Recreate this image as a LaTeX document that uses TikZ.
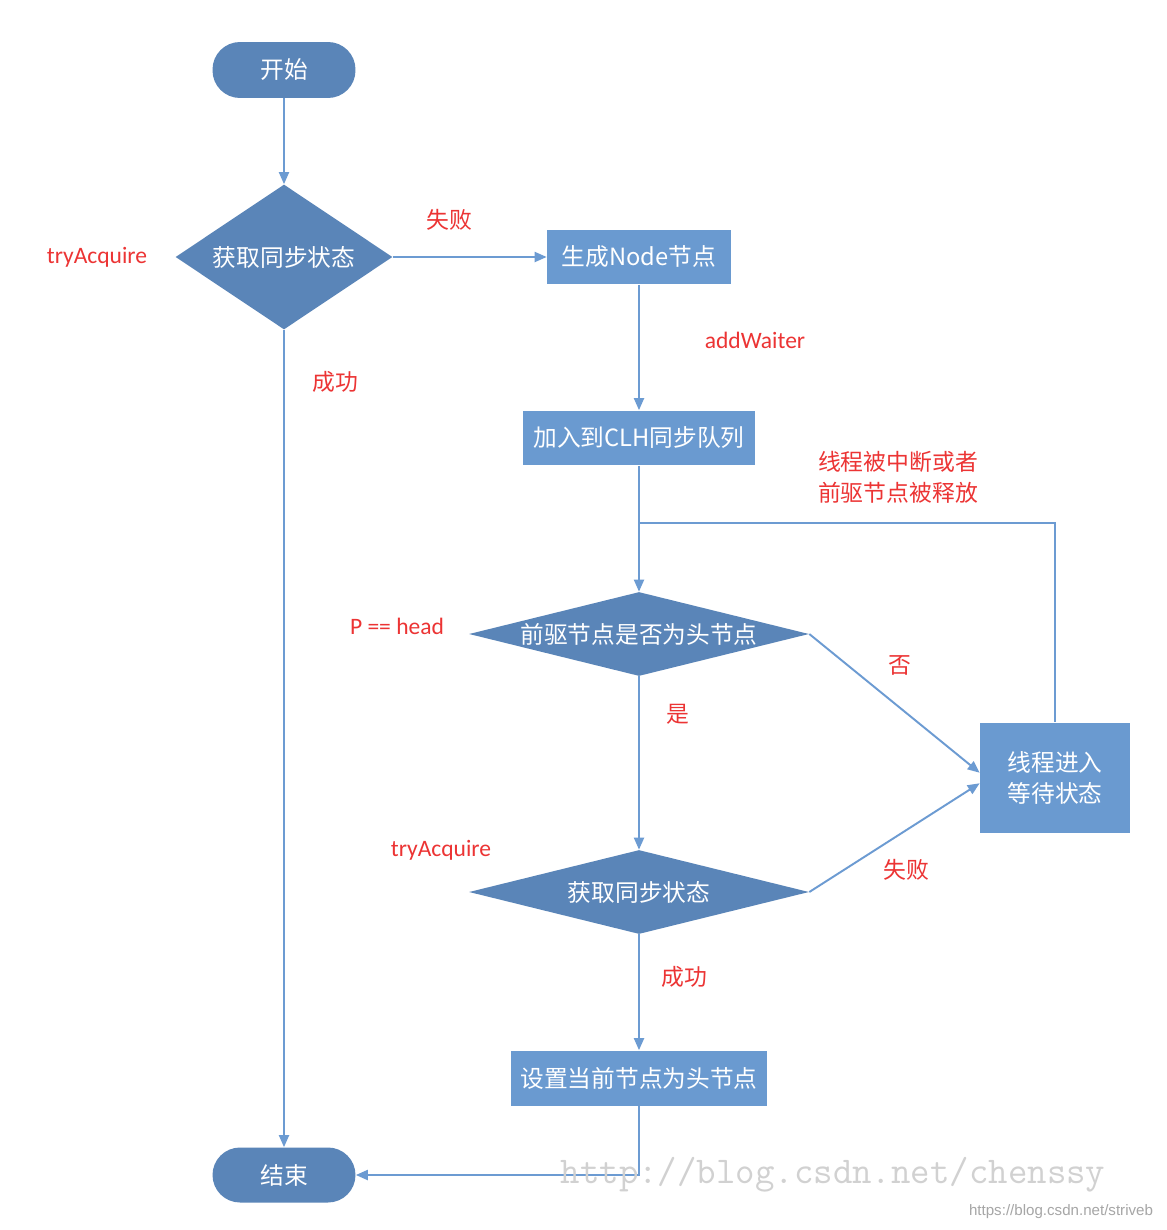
\documentclass[tikz,border=0pt]{standalone}
\usepackage{fontspec}
\setmainfont{Carlito}
\newfontfamily\cjk{Noto Sans CJK SC}
\newfontfamily\wmsmall{Liberation Sans}
\usetikzlibrary{shapes.geometric,arrows.meta}
\definecolor{flowdark}{HTML}{5A85B8}
\definecolor{flowbox}{HTML}{6A9AD0}
\definecolor{flowline}{HTML}{6C9BD2}
\definecolor{flowred}{HTML}{EC3434}
\tikzset{
    terminal/.style={draw=none, fill=flowdark, rounded corners=0.55cm, minimum width=2.86cm, minimum height=1.12cm, text=white, font=\cjk\fontsize{13.5}{18}\selectfont},
    stepbox/.style={draw=none, fill=flowbox, minimum height=1.1cm, inner sep=0pt, text=white, font=\cjk\fontsize{13.5}{18}\selectfont},
    decision/.style={diamond, draw=none, fill=flowdark, inner sep=0pt},
    decisiontext/.style={text=white, font=\cjk\fontsize{13.5}{18}\selectfont},
    flow/.style={draw=flowline, line width=1.1pt, -{Triangle[length=2.4mm,width=2mm]}},
    plainflow/.style={draw=flowline, line width=1.1pt},
    note/.style={text=flowred, font=\cjk\fontsize{13}{17.6}\selectfont, align=left},
    notelatin/.style={text=flowred, font=\fontsize{13.4}{16}\selectfont},
}
\begin{document}
\begin{tikzpicture}[x=0.02cm, y=-0.02cm]
        \useasboundingbox[fill=white] (0, 0) rectangle (1166, 1230);
        %left column
        \node[terminal] (start) at (284, 70) {开始};
        \node[decision, minimum width=4.34cm, minimum height=2.9cm] (acq1) at (284, 257) {};
        \node[decisiontext] at (acq1) {获取同步状态};
        \node[terminal, minimum height=1.1cm] (finish) at (284, 1175) {结束};
        %middle column
        \node[stepbox, minimum width=3.68cm] (gen) at (639, 257) {生成Node节点};
        \node[stepbox, minimum width=4.64cm] (enq) at (639, 438) {加入到CLH同步队列};
        \node[decision, minimum width=6.8cm, minimum height=1.68cm] (pre) at (639, 634) {};
        \node[decisiontext] at (pre) {前驱节点是否为头节点};
        \node[decision, minimum width=6.8cm, minimum height=1.68cm] (acq2) at (639, 892) {};
        \node[decisiontext] at (acq2) {获取同步状态};
        \node[stepbox, minimum width=5.14cm] (sethead) at (639, 1078) {设置当前节点为头节点};
        %wait box
        \node[stepbox, minimum width=3cm, minimum height=2.22cm, align=center] (wait) at (1055, 778) {线程进入\\等待状态};
        \coordinate (join) at (639, 523);
        %connectors
        \draw[flow] (start) -- (acq1);
        \draw[flow] (acq1) -- (gen);
        \draw[flow] (acq1) -- (finish);
        \draw[flow] (gen) -- (enq);
        \draw[flow] (enq) -- (pre);
        \draw[plainflow] (wait.north) |- (join);
        \draw[flow] (pre.east) -- ([yshift=3pt]wait.west);
        \draw[flow] (pre) -- (acq2);
        \draw[flow] (acq2.east) -- ([yshift=-3pt]wait.west);
        \draw[flow] (acq2) -- (sethead);
        \draw[flow] (sethead.south) |- (finish.east);
        %labels
        \node[notelatin] (try1) at (97, 257) {tryAcquire};
        \node[note] (fail1) at (449, 220) {失败};
        \node[note] (ok1) at (335, 382) {成功};
        \node[notelatin] (addw) at (755, 340) {addWaiter};
        \node[note] (intr) at (898, 477) {线程被中断或者\\前驱节点被释放};
        \node[notelatin] (phead) at (397, 626) {P == head};
        \node[note] (no) at (900, 665) {否};
        \node[note] (yes) at (678, 714) {是};
        \node[notelatin] (try2) at (441, 850) {tryAcquire};
        \node[note] (fail2) at (906, 870) {失败};
        \node[note] (ok2) at (684, 977) {成功};
        %watermarks
        \node[text=black!18, font=\ttfamily\fontsize{21.5}{22}\selectfont] (wm) at (833, 1175) {http://blog.csdn.net/chenssy};
        \node[text=black!35, font=\wmsmall\fontsize{8.6}{9}\selectfont] (wm2) at (1061, 1212) {https://blog.csdn.net/striveb};
    \end{tikzpicture}
\end{document}
